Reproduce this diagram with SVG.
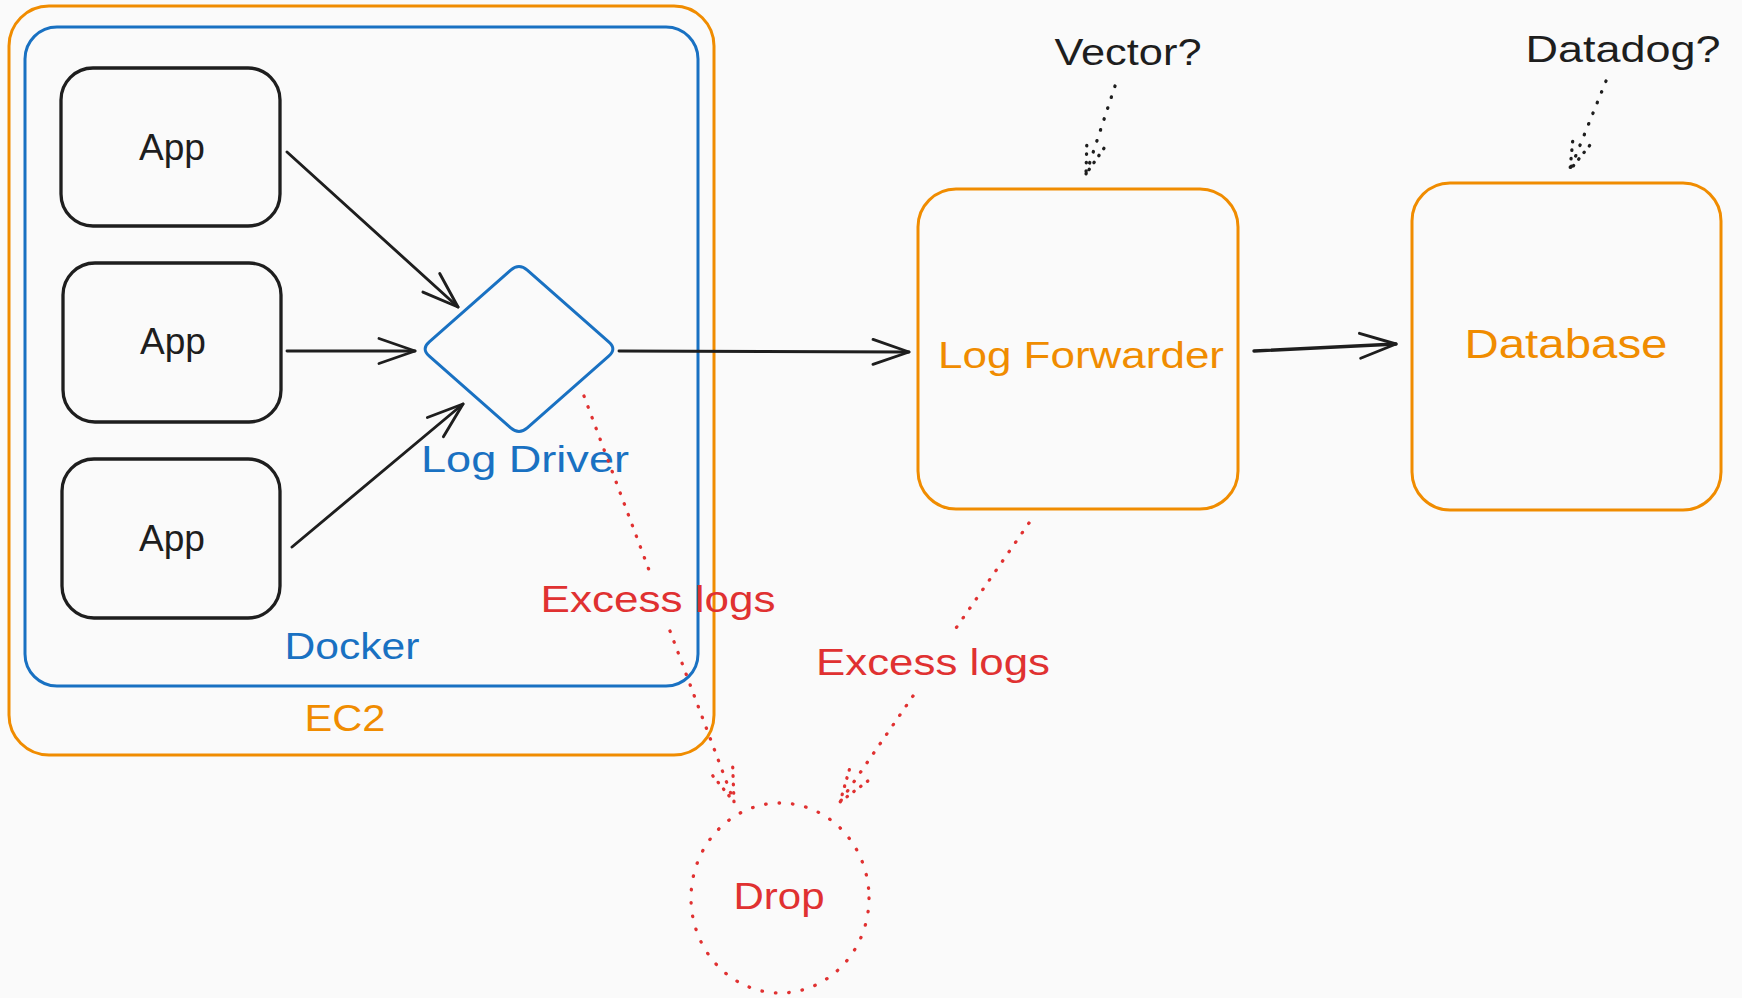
<svg xmlns="http://www.w3.org/2000/svg" width="1742" height="998" viewBox="0 0 1742 998">
<style>
.t{font-family:"Liberation Sans","DejaVu Sans",sans-serif;font-size:36px;text-anchor:middle}
.blk{fill:#1e1e1e}.org{fill:#f08c00}.blu{fill:#1971c2}.red{fill:#e03131}
.box{fill:none;stroke-width:3;stroke-linejoin:round}
.arrow{fill:none;stroke:#1e1e1e;stroke-width:2.9;stroke-linecap:round}
.dot{fill:none;stroke-width:3.3;stroke-linecap:round;stroke-dasharray:0.5 11}
</style>
<defs>
<marker id="ah" markerUnits="userSpaceOnUse" markerWidth="50" markerHeight="40" viewBox="-45 -20 50 40" refX="0" refY="0" orient="auto">
<path d="M -36 -12.5 L 0 0 L -36 12.5" fill="none" stroke="#1e1e1e" stroke-width="2.9" stroke-linecap="round" stroke-linejoin="round"/>
</marker>
<marker id="ahr" markerUnits="userSpaceOnUse" markerWidth="50" markerHeight="40" viewBox="-45 -20 50 40" refX="0" refY="0" orient="auto">
<path d="M -33 -11 L 0 0 L -33 11" fill="none" stroke="#e03131" stroke-width="3.3" stroke-linecap="round" stroke-dasharray="0.5 8"/>
</marker>
<marker id="ahk" markerUnits="userSpaceOnUse" markerWidth="50" markerHeight="40" viewBox="-45 -20 50 40" refX="0" refY="0" orient="auto">
<path d="M -30 -9 L 0 0 L -30 9" fill="none" stroke="#1e1e1e" stroke-width="3.3" stroke-linecap="round" stroke-dasharray="0.5 8"/>
</marker>
</defs>
<rect width="1742" height="998" fill="#fafafa"/>

<g id="ec2">
<rect x="9" y="6" width="705" height="749" rx="40" class="box" stroke="#f08c00"/>
<text x="345" y="731" class="t org" textLength="81" lengthAdjust="spacingAndGlyphs">EC2</text>
</g>
<g id="docker">
<rect x="25" y="27" width="673" height="659" rx="32" class="box" stroke="#1971c2"/>
<text x="352" y="659" class="t blu" textLength="135" lengthAdjust="spacingAndGlyphs">Docker</text>
</g>
<g id="app1">
<rect x="61" y="68" width="219" height="158" rx="32" class="box" stroke="#1e1e1e" style="stroke-width:3.3"/>
<text x="172" y="160" class="t blk" textLength="66" lengthAdjust="spacingAndGlyphs">App</text>
</g>
<g id="app2">
<rect x="63" y="263" width="218" height="159" rx="32" class="box" stroke="#1e1e1e" style="stroke-width:3.3"/>
<text x="173" y="354" class="t blk" textLength="66" lengthAdjust="spacingAndGlyphs">App</text>
</g>
<g id="app3">
<rect x="62" y="459" width="218" height="159" rx="32" class="box" stroke="#1e1e1e" style="stroke-width:3.3"/>
<text x="172" y="551" class="t blk" textLength="66" lengthAdjust="spacingAndGlyphs">App</text>
</g>
<g id="logdriver">
<path d="M 527.3 270.1 L 608.7 341.9 Q 617 349 608.7 356.1 L 527.3 427.9 Q 519 435 510.7 427.9 L 429.3 356.1 Q 421 349 429.3 341.9 L 510.7 270.1 Q 519 263 527.3 270.1 Z" class="box" stroke="#1971c2"/>
<text x="525" y="472" class="t blu" textLength="208" lengthAdjust="spacingAndGlyphs">Log Driver</text>
</g>
<g id="logforwarder">
<rect x="918" y="189" width="320" height="320" rx="38" class="box" stroke="#f08c00"/>
<text x="1081" y="368" class="t org" textLength="286" lengthAdjust="spacingAndGlyphs">Log Forwarder</text>
</g>
<g id="database">
<rect x="1412" y="183" width="309" height="327" rx="38" class="box" stroke="#f08c00"/>
<text x="1566" y="358" class="t org" style="font-size:40px" textLength="203" lengthAdjust="spacingAndGlyphs">Database</text>
</g>
<g id="drop">
<ellipse cx="780" cy="898" rx="89" ry="95" class="dot" stroke="#e03131" style="stroke-dasharray:0.5 13"/>
<text x="779" y="909" class="t red" textLength="91" lengthAdjust="spacingAndGlyphs">Drop</text>
</g>
<g id="vector">
<text x="1128" y="65" class="t blk" textLength="147" lengthAdjust="spacingAndGlyphs">Vector?</text>
</g>
<g id="datadog">
<text x="1623" y="62" class="t blk" textLength="195" lengthAdjust="spacingAndGlyphs">Datadog?</text>
</g>

<g id="connectors">
<line x1="287" y1="152" x2="458" y2="307" class="arrow" marker-end="url(#ah)"/>
<line x1="287" y1="351" x2="415" y2="351" class="arrow" marker-end="url(#ah)"/>
<line x1="292" y1="547" x2="463" y2="404" class="arrow" marker-end="url(#ah)"/>
<line x1="619" y1="351" x2="909" y2="352" class="arrow" marker-end="url(#ah)"/>
<path d="M 1254 351 L 1396 344" class="arrow" style="stroke-width:3.4" marker-end="url(#ah)"/>
<line x1="1115" y1="86" x2="1086" y2="174" class="dot" stroke="#1e1e1e" marker-end="url(#ahk)"/>
<line x1="1606" y1="81" x2="1570" y2="170" class="dot" stroke="#1e1e1e" marker-end="url(#ahk)"/>
<line x1="584" y1="396" x2="649" y2="570" class="dot" stroke="#e03131"/>
<line x1="670" y1="631" x2="734" y2="802" class="dot" stroke="#e03131" marker-end="url(#ahr)"/>
<line x1="1029" y1="523" x2="954" y2="631" class="dot" stroke="#e03131"/>
<line x1="913" y1="696" x2="840" y2="802" class="dot" stroke="#e03131" marker-end="url(#ahr)"/>
<text x="658" y="612" class="t red" textLength="235" lengthAdjust="spacingAndGlyphs">Excess logs</text>
<text x="933" y="675" class="t red" textLength="234" lengthAdjust="spacingAndGlyphs">Excess logs</text>
</g>
</svg>
